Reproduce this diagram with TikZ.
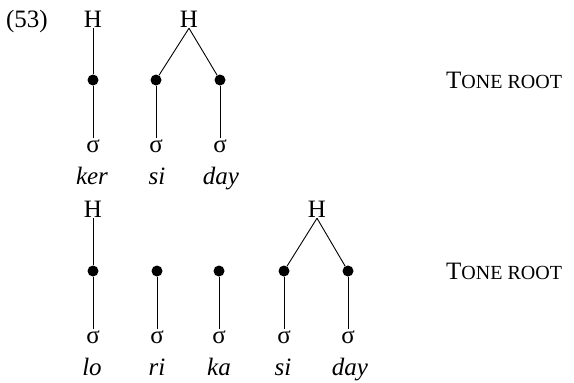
\documentclass[tikz,border=0pt]{standalone}
\usepackage{fontspec}
\setmainfont{Liberation Serif}
\begin{document}
\begin{tikzpicture}[x=1pt,y=-1pt,
  txt/.style={anchor=base, inner sep=1pt, font=\fontsize{25}{25}\selectfont},
  wd/.style={anchor=base, inner sep=1pt, font=\fontsize{25}{25}\selectfont\itshape},
  sg/.style={anchor=base, inner sep=1.5pt, font=\fontsize{25}{25}\selectfont},
  dot/.style={circle, fill=black, inner sep=0pt, minimum size=11pt},
  tl/.style={line width=0.9pt},
  lbl/.style={anchor=base west, inner sep=0pt, font=\fontsize{25}{25}\selectfont}]
\useasboundingbox (0,0) rectangle (574,383);
% label
\node[txt] (num) at (27,27) {(53)};
% top row
\node[txt] (ha) at (93,27) {H};
\node[txt] (hb) at (189,27) {H};
\node[dot] (a1) at (93,80) {};
\node[dot] (a2) at (156,80) {};
\node[dot] (a3) at (220,80) {};
\node[sg] (s1) at (93,152) {σ};
\node[sg] (s2) at (156,152) {σ};
\node[sg] (s3) at (220,152) {σ};
\node[wd] (w1) at (92,184) {ker};
\node[wd] (w2) at (157,184) {si};
\node[wd] (w3) at (221,184) {day};
\node[lbl] (t1) at (446,88) {T{\fontsize{20}{20}\selectfont ONE ROOT}};
\draw[tl] (ha.south) -- (a1);
\draw[tl] (hb.south) -- (a2);
\draw[tl] (hb.south) -- (a3);
\draw[tl] (a1) -- (a1 |- s1.north);
\draw[tl] (a2) -- (a2 |- s2.north);
\draw[tl] (a3) -- (a3 |- s3.north);
% bottom row
\node[txt] (hc) at (93,217) {H};
\node[txt] (hd) at (317,217) {H};
\node[dot] (b1) at (93,271) {};
\node[dot] (b2) at (157,271) {};
\node[dot] (b3) at (219,271) {};
\node[dot] (b4) at (284,271) {};
\node[dot] (b5) at (348,271) {};
\node[sg] (r1) at (93,343) {σ};
\node[sg] (r2) at (157,343) {σ};
\node[sg] (r3) at (219,343) {σ};
\node[sg] (r4) at (284,343) {σ};
\node[sg] (r5) at (348,343) {σ};
\node[wd] (v1) at (92,375) {lo};
\node[wd] (v2) at (157,375) {ri};
\node[wd] (v3) at (219,375) {ka};
\node[wd] (v4) at (283,375) {si};
\node[wd] (v5) at (350,375) {day};
\node[lbl] (t2) at (446,279) {T{\fontsize{20}{20}\selectfont ONE ROOT}};
\draw[tl] (hc.south) -- (b1);
\draw[tl] (hd.south) -- (b4);
\draw[tl] (hd.south) -- (b5);
\draw[tl] (b1) -- (b1 |- r1.north);
\draw[tl] (b2) -- (b2 |- r2.north);
\draw[tl] (b3) -- (b3 |- r3.north);
\draw[tl] (b4) -- (b4 |- r4.north);
\draw[tl] (b5) -- (b5 |- r5.north);
\end{tikzpicture}
\end{document}
